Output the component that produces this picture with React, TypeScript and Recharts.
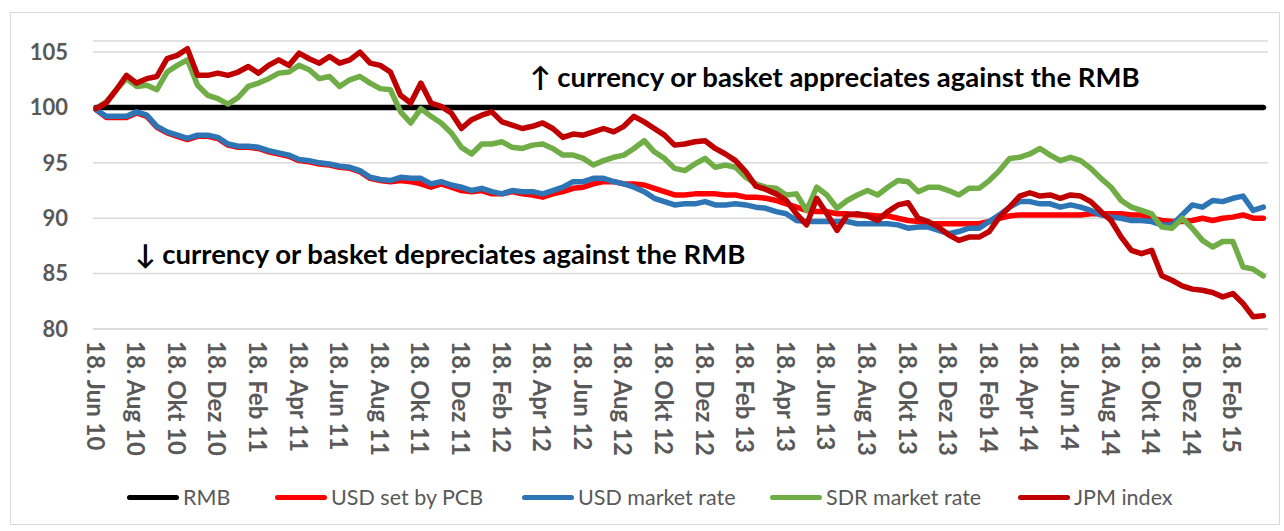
import React from 'react';
import { LineChart, Line, XAxis, YAxis, CartesianGrid } from 'recharts';

// x positions: half-month steps counted from 18 Jun 2010
const tickLabels = [
  '18. Jun 10', '18. Aug 10', '18. Okt 10', '18. Dez 10', '18. Feb 11', '18. Apr 11', '18. Jun 11',
  '18. Aug 11', '18. Okt 11', '18. Dez 11', '18. Feb 12', '18. Apr 12', '18. Jun 12', '18. Aug 12',
  '18. Okt 12', '18. Dez 12', '18. Feb 13', '18. Apr 13', '18. Jun 13', '18. Aug 13', '18. Okt 13',
  '18. Dez 13', '18. Feb 14', '18. Apr 14', '18. Jun 14', '18. Aug 14', '18. Okt 14', '18. Dez 14',
  '18. Feb 15',
];

const rmbLevel = 100;

const usdPcb = [
  99.8, 99.1, 99.1, 99.1, 99.5, 99.2, 98.2, 97.7, 97.4, 97.1, 97.4, 97.4, 97.2, 96.6, 96.4, 96.4, 96.3, 96.0, 95.8, 95.6,
  95.2, 95.1, 94.9, 94.8, 94.6, 94.5, 94.2, 93.6, 93.4,
  93.3, 93.4, 93.3, 93.1, 92.8, 93.1, 92.8, 92.5, 92.4, 92.5, 92.2, 92.2, 92.4, 92.2, 92.1, 91.9, 92.2, 92.4, 92.7, 92.8,
  93.1, 93.3, 93.3, 93.1, 93.1, 93.0, 92.7, 92.4, 92.1,
  92.1, 92.2, 92.2, 92.2, 92.1, 92.1, 91.9, 91.9, 91.8, 91.6, 91.3, 91.0, 90.7, 90.6, 90.6, 90.4, 90.4, 90.3, 90.3,
  90.2, 90.2, 90.0, 89.8, 89.7, 89.5, 89.5, 89.5, 89.5, 89.5,
  89.5, 89.7, 90.0, 90.2, 90.3, 90.3, 90.3, 90.3, 90.3, 90.3, 90.3, 90.4, 90.4, 90.4, 90.4, 90.3, 90.3, 90.0, 89.8,
  89.7, 89.7, 89.8, 90.0, 89.8, 90.0, 90.1, 90.3, 90.0, 90.0,
];

const usdMarket = [
  99.8, 99.2, 99.2, 99.2, 99.6, 99.3, 98.3, 97.8, 97.5, 97.2, 97.5, 97.5, 97.3, 96.7, 96.5, 96.5, 96.4, 96.1, 95.9, 95.7,
  95.3, 95.2, 95.0, 94.9, 94.7, 94.6, 94.3, 93.7, 93.5,
  93.4, 93.7, 93.6, 93.6, 93.1, 93.3, 93.0, 92.8, 92.5, 92.7, 92.4, 92.2, 92.5, 92.4, 92.4, 92.2, 92.5, 92.8, 93.3, 93.3,
  93.6, 93.6, 93.3, 93.1, 92.8, 92.4, 91.8, 91.5, 91.2,
  91.3, 91.3, 91.5, 91.2, 91.2, 91.3, 91.2, 91.0, 90.9, 90.6, 90.4, 89.8, 89.7, 89.7, 89.7, 89.7, 89.7, 89.5, 89.5,
  89.5, 89.5, 89.4, 89.1, 89.2, 89.2, 88.9, 88.6, 88.8, 89.1,
  89.1, 89.7, 90.3, 91.0, 91.5, 91.5, 91.3, 91.3, 91.0, 91.2, 91.0, 90.7, 90.3, 90.1, 90.0, 89.8, 89.8, 89.7, 89.4,
  89.4, 90.3, 91.2, 91.0, 91.6, 91.5, 91.8, 92.0, 90.7, 91.0,
];

const sdrMarket = [
  99.9, 100.5, 101.6, 102.6, 101.9, 102.0, 101.6, 103.2, 103.8, 104.3, 102.0, 101.1, 100.8, 100.3, 100.9, 101.9, 102.2,
  102.6, 103.1, 103.2, 103.8, 103.4, 102.6, 102.8, 101.9, 102.5, 102.8, 102.2, 101.7,
  101.6, 99.6, 98.6, 99.9, 99.2, 98.6, 97.7, 96.4, 95.8, 96.7, 96.7, 96.9, 96.4, 96.3, 96.6, 96.7, 96.3, 95.7, 95.7,
  95.4, 94.8, 95.2, 95.5, 95.7, 96.3, 97.0, 96.0, 95.4, 94.5,
  94.3, 94.9, 95.4, 94.6, 94.8, 94.6, 93.7, 93.1, 92.8, 92.7, 92.1, 92.2, 90.7, 92.8, 92.1, 90.9, 91.6, 92.1, 92.5,
  92.1, 92.8, 93.4, 93.3, 92.4, 92.8, 92.8, 92.5, 92.1, 92.7,
  92.7, 93.4, 94.3, 95.4, 95.5, 95.8, 96.3, 95.7, 95.2, 95.5, 95.2, 94.5, 93.6, 92.8, 91.6, 91.0, 90.7, 90.4, 89.2,
  89.1, 90.0, 89.1, 88.0, 87.4, 87.9, 87.9, 85.6, 85.4, 84.8,
];

const jpmIndex = [
  99.9, 100.4, 101.6, 102.9, 102.2, 102.6, 102.8, 104.4, 104.7, 105.3, 102.9, 102.9, 103.1, 102.9, 103.2, 103.7, 103.1,
  103.8, 104.3, 103.8, 104.9, 104.4, 104.0, 104.6, 104.0, 104.3, 105.0, 104.0, 103.8,
  103.2, 101.1, 100.4, 102.2, 100.4, 100.1, 99.5, 98.1, 98.9, 99.3, 99.6, 98.7, 98.4, 98.1, 98.3, 98.6, 98.1, 97.3, 97.6,
  97.5, 97.8, 98.1, 97.8, 98.3, 99.2, 98.7, 98.1, 97.5, 96.6,
  96.7, 96.9, 97.0, 96.3, 95.8, 95.2, 94.2, 92.9, 92.6, 92.2, 91.6, 90.4, 89.4, 91.8, 90.4, 88.9, 90.3, 90.4, 90.2,
  89.8, 90.6, 91.2, 91.4, 90.0, 89.7, 89.2, 88.5, 88.0, 88.3,
  88.3, 88.8, 90.1, 91.0, 92.0, 92.3, 92.0, 92.1, 91.8, 92.1, 92.0, 91.5, 90.6, 89.8, 88.3, 87.1, 86.8, 87.1, 84.8,
  84.4, 83.9, 83.6, 83.5, 83.3, 82.9, 83.2, 82.3, 81.1, 81.2,
];

const seriesNames = ['RMB', 'USD set by PCB', 'USD market rate', 'SDR market rate', 'JPM index'];
const seriesColors = ['#000000', '#ff0000', '#2e75b6', '#70ad47', '#c00000'];
const seriesKeys = ['rmb', 'usdPcb', 'usdMarket', 'sdr', 'jpm'];

const data = usdPcb.map((v, i) => ({
  m: i * 0.5,
  rmb: rmbLevel,
  usdPcb: v,
  usdMarket: usdMarket[i],
  sdr: sdrMarket[i],
  jpm: jpmIndex[i],
}));

const xTicks = tickLabels.map((_, i) => i * 2);
const yTicks = [80, 85, 90, 95, 100, 105];

const FONT = 'Lato, "Open Sans", sans-serif';

const XTick = (props: any) => {
  const { x, y, payload } = props;
  const label = tickLabels[Math.round(payload.value / 2)];
  return (
    <text
      x={x}
      y={y}
      transform={`rotate(90, ${x}, ${y})`}
      textAnchor="start"
      dominantBaseline="central"
      fill="#595959"
      fontSize={24}
      fontWeight="bold"
      fontFamily={FONT}
    >
      {label}
    </text>
  );
};

const legendLeft = [116, 264, 511, 759, 1007];

export default function App() {
  return (
    <div
      style={{
        position: 'absolute',
        left: 10,
        top: 12,
        width: 1270,
        height: 513,
        border: '1px solid #d9d9d9',
        boxSizing: 'border-box',
        background: '#fff',
      }}
    >
      <LineChart width={1268} height={470} data={data} margin={{ top: 28, right: 11, left: 22, bottom: 14 }}>
        <CartesianGrid vertical={false} stroke="#d9d9d9" strokeWidth={1.5} />
        <XAxis
          dataKey="m"
          type="number"
          domain={[-0.15, 57.73]}
          ticks={xTicks}
          interval={0}
          height={140}
          tick={<XTick />}
          tickLine={false}
          tickSize={0}
          tickMargin={12}
          axisLine={{ stroke: '#d9d9d9', strokeWidth: 1.5 }}
        />
        <YAxis
          domain={[80, 106]}
          ticks={yTicks}
          width={60}
          tickLine={false}
          axisLine={false}
          tickSize={0}
          tickMargin={25}
          tick={{ fill: '#595959', fontSize: 22, fontWeight: 'bold', fontFamily: FONT }}
        />
        {seriesKeys.map((k, i) => (
          <Line
            key={k}
            dataKey={k}
            name={seriesNames[i]}
            type="linear"
            stroke={seriesColors[i]}
            strokeWidth={5.5}
            strokeLinejoin="round"
            strokeLinecap="round"
            dot={false}
            isAnimationActive={false}
          />
        ))}
        <text x={519} y={63} dominantBaseline="central" fontSize={27.5} fontWeight="bold" fontFamily={FONT} fill="#000">
          ↑ currency or basket appreciates against the RMB
        </text>
        <text x={124} y={240} dominantBaseline="central" fontSize={27.5} fontWeight="bold" fontFamily={FONT} fill="#000">
          ↓ currency or basket depreciates against the RMB
        </text>
      </LineChart>
      {seriesNames.map((name, i) => (
        <div
          key={name}
          style={{
            position: 'absolute',
            left: legendLeft[i],
            top: 471,
            height: 26,
            display: 'flex',
            alignItems: 'center',
            fontFamily: FONT,
            fontSize: 21.5,
            color: '#595959',
            whiteSpace: 'nowrap',
          }}
        >
          <span
            style={{
              display: 'inline-block',
              width: 52,
              height: 5,
              borderRadius: 3,
              background: seriesColors[i],
              marginRight: 4,
            }}
          />
          {name}
        </div>
      ))}
    </div>
  );
}
